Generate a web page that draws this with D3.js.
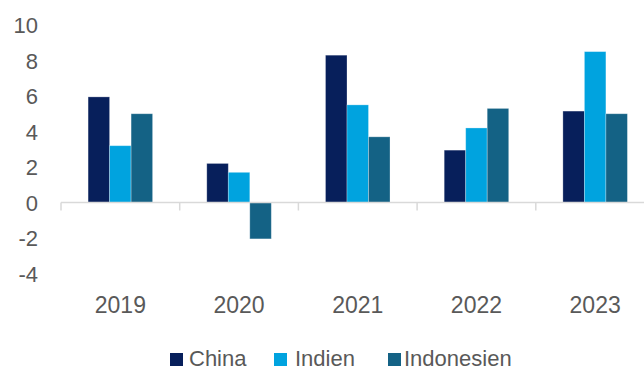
<!DOCTYPE html>
<html>
<head>
<meta charset="utf-8">
<script src="https://cdn.jsdelivr.net/npm/d3@7"></script>
<style>
html,body{margin:0;padding:0;background:#fff;}
svg{display:block;font-family:"Liberation Sans",Arial,sans-serif;}
</style>
</head>
<body>
<svg id="chart" width="644" height="371"></svg>
<script>
const categories = ["2019", "2020", "2021", "2022", "2023"];
const seriesNames = ["China", "Indien", "Indonesien"];
const china = [5.95, 2.2, 8.3, 2.95, 5.15];
const indien = [3.2, 1.7, 5.5, 4.2, 8.5];
const indonesien = [5.0, -2.05, 3.7, 5.3, 5.0];
const yTicks = [-4, -2, 0, 2, 4, 6, 8, 10];
const colors = ["#071f5b", "#00a3df", "#146285"];

const seriesValues = [china, indien, indonesien];
const svg = d3.select("#chart");

const x = d3.scaleBand().domain(categories).range([61, 654.5]).paddingInner(0).paddingOuter(0);
const xInner = d3.scaleBand().domain(seriesNames).range([0, x.bandwidth()]).paddingInner(0).paddingOuter(1.26);
const y = d3.scaleLinear().domain([0, 10]).range([202.5, 25]);

// y tick labels
const yAxis = d3.axisLeft(y).tickValues(yTicks).tickFormat(d => String(d)).tickSize(0).tickPadding(0);
const yg = svg.append("g").attr("transform", "translate(38,0)").call(yAxis);
yg.select(".domain").remove();
yg.selectAll("text").attr("font-size", "22px").attr("fill", "#595959")
  .attr("font-family", "Liberation Sans, Arial, sans-serif").attr("dy", "0.35em");

// bars
const data = [];
categories.forEach((c, i) => seriesNames.forEach((s, j) => data.push({c, s, v: seriesValues[j][i], j})));
svg.append("g").selectAll("rect").data(data).join("rect")
  .attr("x", d => x(d.c) + xInner(d.s))
  .attr("width", xInner.bandwidth())
  .attr("y", d => y(Math.max(0, d.v)))
  .attr("height", d => Math.abs(y(d.v) - y(0)))
  .attr("fill", d => colors[d.j])
  .attr("stroke", "#ffffff").attr("stroke-opacity", 0.35).attr("stroke-width", 0.8);

// x axis at zero
const xAxis = d3.axisBottom(x).tickSize(0).tickPadding(0);
const xg = svg.append("g").attr("transform", `translate(0,${y(0)})`).call(xAxis);
xg.select(".domain").attr("stroke", "#d9d9d9").attr("stroke-width", 1.5)
  .attr("d", `M${x.range()[0]},0H${x.range()[1]}`);
xg.selectAll(".tick line").remove();
xg.selectAll("text").attr("font-size", "23px").attr("fill", "#595959")
  .attr("font-family", "Liberation Sans, Arial, sans-serif")
  .attr("y", 0).attr("dy", 0)
  .attr("transform", `translate(0,${313 - y(0)})`);
// boundary ticks
const bounds = categories.map(c => x(c)).concat([x.range()[1]]);
xg.selectAll("line.bound").data(bounds).join("line").attr("class", "bound")
  .attr("x1", d => d).attr("x2", d => d).attr("y1", 0).attr("y2", 8)
  .attr("stroke", "#d9d9d9").attr("stroke-width", 1.5);

// legend
const legendItems = [
  {name: "China", sx: 170, tx: 189},
  {name: "Indien", sx: 274, tx: 295},
  {name: "Indonesien", sx: 388, tx: 404}
];
const lg = svg.append("g");
legendItems.forEach((d, i) => {
  lg.append("rect").attr("x", d.sx).attr("y", 353).attr("width", 13).attr("height", 13).attr("fill", colors[i]);
  lg.append("text").attr("x", d.tx).attr("y", 366).attr("font-size", "22px").attr("fill", "#595959")
    .attr("font-family", "Liberation Sans, Arial, sans-serif").text(seriesNames[i]);
});
</script>
</body>
</html>
